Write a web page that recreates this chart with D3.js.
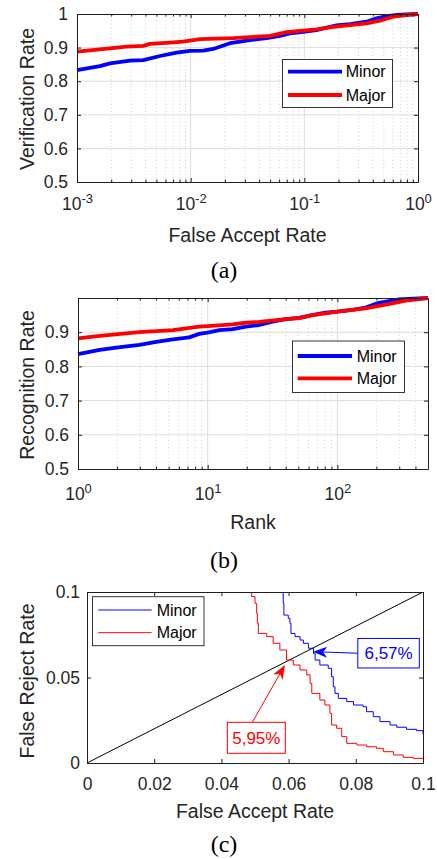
<!DOCTYPE html>
<html>
<head>
<meta charset="utf-8">
<script src="https://cdn.jsdelivr.net/npm/d3@7"></script>
<style>
  body { margin: 0; background: #fff; }
  svg text { font-family: "Liberation Sans", Arial, Helvetica, sans-serif; fill: #262626; }
  svg text.caption { font-family: "Liberation Serif", "Times New Roman", serif; fill: #000; }
</style>
</head>
<body>
<svg id="fig" width="437" height="859"></svg>
<script>
// (a) verification rate vs false accept rate
var aFarMinor  = [0.001, 0.00159, 0.00195, 0.00292, 0.00383, 0.00537, 0.00753, 0.00986, 0.0129, 0.0158, 0.0222, 0.0311, 0.0466, 0.061, 0.0746, 0.0977, 0.128, 0.168, 0.192, 0.252, 0.353, 0.432, 0.529, 0.694, 1.0];
var aRateMinor = [0.833, 0.845, 0.853, 0.861, 0.863, 0.875, 0.885, 0.890, 0.891, 0.896, 0.913, 0.921, 0.928, 0.935, 0.942, 0.947, 0.952, 0.962, 0.966, 0.970, 0.977, 0.987, 0.994, 0.998, 1.0];
var aFarMajor  = [0.001, 0.00159, 0.00273, 0.00383, 0.00438, 0.00657, 0.00861, 0.0121, 0.0169, 0.0237, 0.0332, 0.0498, 0.0698, 0.0915, 0.128, 0.18, 0.252, 0.353, 0.462, 0.605, 0.794, 1.0];
var aRateMajor = [0.888, 0.895, 0.903, 0.905, 0.911, 0.915, 0.918, 0.925, 0.927, 0.928, 0.931, 0.935, 0.946, 0.950, 0.954, 0.962, 0.967, 0.972, 0.980, 0.992, 0.997, 1.0];

// (b) recognition rate vs rank
var bRankMinor = [1, 1.47, 1.97, 2.98, 4.0, 5.4, 7.2, 8.6, 10, 12.3, 15.6, 19.7, 25, 31.6, 40, 50.7, 64, 81, 100, 130, 165, 209, 265, 298, 500];
var bRateMinor = [0.836, 0.848, 0.855, 0.863, 0.872, 0.879, 0.885, 0.895, 0.899, 0.906, 0.909, 0.916, 0.921, 0.931, 0.938, 0.942, 0.950, 0.957, 0.960, 0.965, 0.972, 0.986, 0.992, 0.996, 1.0];
var bRankMajor = [1, 1.47, 2.98, 5.4, 8.6, 10, 15.6, 19.7, 25, 40, 50.7, 64, 81, 100, 130, 165, 209, 265, 336, 500];
var bRateMajor = [0.882, 0.889, 0.900, 0.906, 0.916, 0.918, 0.923, 0.928, 0.930, 0.938, 0.941, 0.950, 0.955, 0.960, 0.965, 0.970, 0.977, 0.984, 0.992, 1.0];

// (c) false reject rate vs false accept rate
var cFarMinor = [0.0579, 0.0584, 0.0586, 0.0599, 0.0604, 0.0607, 0.0619, 0.0634, 0.0644, 0.0659, 0.0674, 0.0679, 0.0693, 0.0718, 0.0728, 0.0733, 0.0738, 0.0748, 0.0773, 0.0793, 0.0822, 0.0832, 0.0852, 0.0872, 0.0902, 0.0922, 0.0951, 0.0981, 0.1];
var cFrrMinor = [0.1, 0.0934, 0.0865, 0.0846, 0.0817, 0.0758, 0.0739, 0.0719, 0.0700, 0.0671, 0.0641, 0.0602, 0.0573, 0.0554, 0.0505, 0.0446, 0.0407, 0.0378, 0.0359, 0.0339, 0.0329, 0.0300, 0.0271, 0.0242, 0.0222, 0.0209, 0.0197, 0.0189, 0.0170];
var cFarMajor = [0.0475, 0.0490, 0.0500, 0.0505, 0.0507, 0.0510, 0.0535, 0.0554, 0.0574, 0.0594, 0.0614, 0.0634, 0.0654, 0.0664, 0.0669, 0.0693, 0.0708, 0.0723, 0.0728, 0.0743, 0.0758, 0.0773, 0.0803, 0.0832, 0.0862, 0.0882, 0.0912, 0.0941, 0.0971, 0.1];
var cFrrMajor = [0.1, 0.0973, 0.0934, 0.0875, 0.0817, 0.0758, 0.0739, 0.0700, 0.0661, 0.0602, 0.0573, 0.0544, 0.0515, 0.0466, 0.0407, 0.0368, 0.0339, 0.0290, 0.0222, 0.0203, 0.0154, 0.0115, 0.0105, 0.0095, 0.0086, 0.0066, 0.0047, 0.0033, 0.0027, 0.0022];
var cDiag = [0, 0.1];

// equal error rate call-outs: label, arrow tail, arrow tip (data units)
var eerLabels = ["6,57%", "5,95%"];
var eerTail = [[0.0806, 0.0642], [0.0492, 0.0238]];
var eerTip  = [[0.0673, 0.0651], [0.0589, 0.0573]];

var seriesNames = ["Minor", "Major"];
var seriesColors = ["#0000ff", "#ff0000"];

// tick values
var aXTicks = [1e-3, 1e-2, 1e-1, 1];
var aYTicks = [0.5, 0.6, 0.7, 0.8, 0.9, 1];
var bXTicks = [1, 10, 100];
var bYTicks = [0.5, 0.6, 0.7, 0.8, 0.9];
var cXTicks = [0, 0.02, 0.04, 0.06, 0.08, 0.1];
var cYTicks = [0, 0.05, 0.1];

var svg = d3.select("#fig");
var INK = "#1f1f1f";

// minor ticks for a log scale: 2..9 times each decade
function logMinor(scale) {
    var dom = scale.domain(), out = [];
    for (var e = Math.floor(Math.log10(dom[0])); e < Math.ceil(Math.log10(dom[1])); e++) {
        for (var k = 2; k <= 9; k++) {
            var v = k * Math.pow(10, e);
            if (v > dom[0] && v < dom[1]) out.push(v);
        }
    }
    return out;
}

function drawPanel(p) {
    var g = svg.append("g");
    var x = p.x, y = p.y;
    var xl = x.range()[0], xr = x.range()[1], yb = y.range()[0], yt = y.range()[1];
    var xMinor = p.log ? logMinor(x) : [];

    // grid
    if (p.grid) {
        g.append("g").selectAll("line").data(xMinor).join("line")
            .attr("x1", d => x(d)).attr("x2", d => x(d))
            .attr("y1", yb).attr("y2", yt)
            .attr("stroke", "#c4c4c4").attr("stroke-width", 0.8)
            .attr("stroke-dasharray", "1,2.5");
        g.append("g").selectAll("line").data(p.xTicks.filter(d => x(d) > xl + 1 && x(d) < xr - 1)).join("line")
            .attr("x1", d => x(d)).attr("x2", d => x(d))
            .attr("y1", yb).attr("y2", yt)
            .attr("stroke", "#dcdcdc").attr("stroke-width", 1);
        g.append("g").selectAll("line").data(p.yTicks.filter(d => y(d) < yb - 1 && y(d) > yt + 1)).join("line")
            .attr("x1", xl).attr("x2", xr)
            .attr("y1", d => y(d)).attr("y2", d => y(d))
            .attr("stroke", "#dcdcdc").attr("stroke-width", 1);
    }

    // curves
    var clipId = "clip" + p.id;
    g.append("clipPath").attr("id", clipId).append("rect")
        .attr("x", xl).attr("y", yt).attr("width", xr - xl).attr("height", yb - yt);
    var cg = g.append("g");
    if (p.clip) cg.attr("clip-path", "url(#" + clipId + ")");
    p.series.forEach(function (s) {
        var line = d3.line().x(d => x(d[0])).y(d => y(d[1])).curve(s.curve || d3.curveLinear);
        cg.append("path")
            .datum(d3.zip(s.xs, s.ys))
            .attr("d", line)
            .attr("fill", "none")
            .attr("stroke", s.color)
            .attr("stroke-width", s.width)
            .attr("stroke-linejoin", "round");
    });

    // axes (ticks point inward, box all round)
    var bottom = g.append("g").attr("transform", "translate(0," + yb + ")")
        .call(d3.axisBottom(x).tickValues(p.xTicks).tickSize(-4).tickSizeOuter(0).tickPadding(0)
            .tickFormat(d3.format("~g")));
    bottom.selectAll("text").attr("y", p.xLabelBase - yb).attr("dy", 0).attr("font-size", 17.5);
    if (p.log) {
        bottom.selectAll(".tick text").each(function (d) {
            var t = d3.select(this);
            t.text(null);
            t.append("tspan").text("10");
            t.append("tspan").attr("dy", -7).attr("font-size", 13).text(Math.round(Math.log10(d)));
        });
    }
    g.append("g").attr("transform", "translate(0," + yt + ")")
        .call(d3.axisTop(x).tickValues(p.xTicks).tickSize(-4).tickSizeOuter(0).tickFormat(""));
    if (p.log) {
        g.append("g").attr("transform", "translate(0," + yb + ")")
            .call(d3.axisBottom(x).tickValues(xMinor).tickSize(-2.5).tickFormat(""))
            .call(a => a.select(".domain").remove());
        g.append("g").attr("transform", "translate(0," + yt + ")")
            .call(d3.axisTop(x).tickValues(xMinor).tickSize(-2.5).tickFormat(""))
            .call(a => a.select(".domain").remove());
    }
    var left = g.append("g").attr("transform", "translate(" + xl + ",0)")
        .call(d3.axisLeft(y).tickValues(p.yTicks).tickSize(-4).tickSizeOuter(0).tickPadding(p.yPad)
            .tickFormat(d3.format("~g")));
    left.selectAll("text").attr("font-size", 17.5);
    g.append("g").attr("transform", "translate(" + xr + ",0)")
        .call(d3.axisRight(y).tickValues(p.yTicks).tickSize(-4).tickSizeOuter(0).tickFormat(""));
    g.selectAll(".domain, .tick line").attr("stroke", INK);
    g.selectAll(".tick text").attr("fill", INK).style("font-family", "'Liberation Sans', Arial, sans-serif");

    // axis titles
    g.append("text")
        .attr("x", (xl + xr) / 2).attr("y", p.xTitleBase)
        .attr("text-anchor", "middle").attr("font-size", 19.5).attr("fill", INK)
        .text(p.xTitle);
    g.append("text")
        .attr("transform", "translate(34," + p.yTitleMid + ") rotate(-90)")
        .attr("text-anchor", "middle").attr("font-size", 19.5).attr("fill", INK)
        .text(p.yTitle);
    g.append("text").attr("class", "caption")
        .attr("x", 224).attr("y", p.captionBase)
        .attr("text-anchor", "middle").attr("font-size", 24)
        .text(p.caption);

    // legend
    var L = p.legend;
    var lg = g.append("g");
    lg.append("rect")
        .attr("x", L.x).attr("y", L.y).attr("width", L.w).attr("height", L.h)
        .attr("fill", "#fff").attr("stroke", INK).attr("stroke-width", 0.9);
    seriesNames.forEach(function (name, i) {
        lg.append("line")
            .attr("x1", L.lx0).attr("x2", L.lx1)
            .attr("y1", L.rows[i]).attr("y2", L.rows[i])
            .attr("stroke", seriesColors[i]).attr("stroke-width", L.lw);
        lg.append("text")
            .attr("x", L.tx).attr("y", L.rows[i]).attr("dy", "0.36em")
            .attr("font-size", 16).style("fill", "#000")
            .text(name);
    });
    return g;
}

// panel (a)
var xA = d3.scaleLog().domain([1e-3, 1]).range([77, 418]);
var yA = d3.scaleLinear().domain([0.5, 1]).range([182, 14]);
drawPanel({
    id: "a", x: xA, y: yA, log: true, grid: true,
    xTicks: aXTicks, yTicks: aYTicks, yPad: 9,
    xLabelBase: 210, xTitleBase: 242, yTitleMid: 99, captionBase: 278,
    xTitle: "False Accept Rate", yTitle: "Verification Rate", caption: "(a)",
    series: [
        { xs: aFarMinor, ys: aRateMinor, color: seriesColors[0], width: 3.8 },
        { xs: aFarMajor, ys: aRateMajor, color: seriesColors[1], width: 3.8 }
    ],
    legend: { x: 282.5, y: 59.5, w: 110, h: 48, lx0: 288, lx1: 342, rows: [71.7, 95], tx: 345.7, lw: 3.8 }
});

// panel (b)
var xB = d3.scaleLog().domain([1, 500]).range([78, 428]);
var yB = d3.scaleLinear().domain([0.5, 1]).range([469, 298]);
drawPanel({
    id: "b", x: xB, y: yB, log: true, grid: true,
    xTicks: bXTicks, yTicks: bYTicks, yPad: 9,
    xLabelBase: 500, xTitleBase: 528.5, yTitleMid: 385, captionBase: 568,
    xTitle: "Rank", yTitle: "Recognition Rate", caption: "(b)",
    series: [
        { xs: bRankMinor, ys: bRateMinor, color: seriesColors[0], width: 3.8 },
        { xs: bRankMajor, ys: bRateMajor, color: seriesColors[1], width: 3.8 }
    ],
    legend: { x: 292.5, y: 341, w: 112, h: 51.5, lx0: 297.7, lx1: 352, rows: [356, 378.3], tx: 356.7, lw: 3.8 }
});

// panel (c)
var xC = d3.scaleLinear().domain([0, 0.1]).range([87, 423]);
var yC = d3.scaleLinear().domain([0, 0.1]).range([763, 592]);
var gC = drawPanel({
    id: "c", x: xC, y: yC, log: false, grid: false, clip: true,
    xTicks: cXTicks, yTicks: cYTicks, yPad: 7,
    xLabelBase: 790, xTitleBase: 818, yTitleMid: 681, captionBase: 852,
    xTitle: "False Accept Rate", yTitle: "False Reject Rate", caption: "(c)",
    series: [
        { xs: cDiag, ys: cDiag, color: "#000", width: 1 },
        { xs: cFarMinor, ys: cFrrMinor, color: seriesColors[0], width: 1, curve: d3.curveStepAfter },
        { xs: cFarMajor, ys: cFrrMajor, color: seriesColors[1], width: 1, curve: d3.curveStepAfter }
    ],
    legend: { x: 92.5, y: 596.7, w: 111.5, h: 49, lx0: 98.3, lx1: 151.7, rows: [610, 632.7], tx: 156.7, lw: 1 }
});

// EER call-outs with arrows
eerLabels.forEach(function (label, i) {
    var col = seriesColors[i];
    var tx = xC(eerTail[i][0]), ty = yC(eerTail[i][1]);
    var px = xC(eerTip[i][0]), py = yC(eerTip[i][1]);
    var ang = Math.atan2(py - ty, px - tx);
    var ca = Math.cos(ang), sa = Math.sin(ang);
    function pt(u, v) { return [px + u * ca - v * sa, py + u * sa + v * ca]; }
    var notch = pt(-10, 0);
    gC.append("line")
        .attr("x1", tx).attr("y1", ty).attr("x2", notch[0]).attr("y2", notch[1])
        .attr("stroke", col).attr("stroke-width", 1);
    gC.append("polygon")
        .attr("points", [pt(0, 0), pt(-14, -5.5), notch, pt(-14, 5.5)].map(q => q.join(",")).join(" "))
        .attr("fill", col);
    var bw = i === 0 ? 61.5 : 58, bh = i === 0 ? 29.5 : 31;
    var bx = i === 0 ? tx : tx - 25, by = i === 0 ? ty - bh / 2 : ty;
    gC.append("rect")
        .attr("x", bx).attr("y", by).attr("width", bw).attr("height", bh)
        .attr("fill", "#fff").attr("stroke", col).attr("stroke-width", 1);
    gC.append("text")
        .attr("x", bx + bw / 2).attr("y", by + bh / 2).attr("dy", "0.36em")
        .attr("text-anchor", "middle").attr("font-size", 17)
        .style("fill", col)
        .text(label);
});
</script>
</body>
</html>
